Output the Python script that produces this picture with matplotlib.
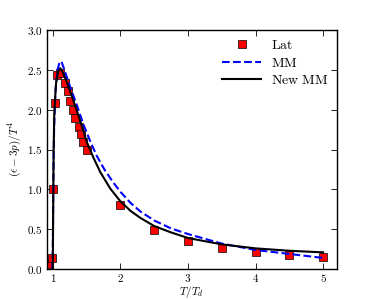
import numpy as np
import matplotlib
matplotlib.use('Agg')
import matplotlib.pyplot as plt
from matplotlib.ticker import FuncFormatter

plt.rcParams['mathtext.fontset'] = 'cm'

# lattice points
lat_t = [0.95, 0.99, 1.0, 1.03, 1.06, 1.11, 1.18, 1.23, 1.26, 1.30, 1.33, 1.38, 1.41, 1.45, 1.50,
         2.0, 2.5, 3.0, 3.5, 4.0, 4.5, 5.0]
lat_i = [0.07, 0.14, 1.0, 2.08, 2.44, 2.46, 2.34, 2.23, 2.11, 2.0, 1.89, 1.78, 1.69, 1.59, 1.50,
         0.81, 0.49, 0.35, 0.27, 0.21, 0.18, 0.15]
lat_err = [0.01, 0.02, 0.06, 0.03, 0.03, 0.03, 0.02, 0.02, 0.02, 0.02, 0.02, 0.02, 0.02, 0.02, 0.02,
           0.01, 0.01, 0.01, 0.01, 0.01, 0.01, 0.01]

# MM curve
mm_t = [0.995, 1.0, 1.005, 1.01, 1.02, 1.04, 1.07, 1.1, 1.13, 1.17, 1.25, 1.35, 1.45, 1.55, 1.65,
        1.77, 1.9, 2.0, 2.15, 2.3, 2.5, 2.75, 3.0, 3.5, 4.0, 4.5, 5.0]
mm_i = [0.0, 0.3, 0.8, 1.3, 1.8, 2.25, 2.5, 2.6, 2.6, 2.5, 2.3, 2.07, 1.82, 1.61, 1.42,
        1.24, 1.08, 0.97, 0.83, 0.72, 0.61, 0.51, 0.44, 0.32, 0.24, 0.19, 0.14]

# new MM curve
nmm_t = [1.0, 1.003, 1.007, 1.012, 1.02, 1.03, 1.05, 1.08, 1.11, 1.14, 1.2, 1.28, 1.35, 1.42, 1.5,
         1.6, 1.7, 1.85, 2.0, 2.15, 2.3, 2.5, 2.75, 3.0, 3.5, 4.0, 4.5, 5.0]
nmm_i = [0.0, 0.5, 1.0, 1.5, 1.9, 2.1, 2.35, 2.48, 2.52, 2.48, 2.36, 2.17, 2.0, 1.82, 1.6,
         1.4, 1.22, 1.01, 0.85, 0.73, 0.64, 0.54, 0.46, 0.39, 0.31, 0.26, 0.23, 0.21]

fig = plt.figure(figsize=(3.74, 2.99), dpi=100)
ax = fig.add_subplot(111)

ax.errorbar(lat_t, lat_i, yerr=lat_err, fmt='none', ecolor='r', elinewidth=0.8, capsize=0, zorder=1)
h1, = ax.plot(lat_t, lat_i, 's', mfc='r', mec='k', mew=0.5, ms=5.5, zorder=2)
h2, = ax.plot(mm_t, mm_i, 'b--', lw=1.5, zorder=3)
h3, = ax.plot(nmm_t, nmm_i, 'k-', lw=1.5, zorder=4)

ax.set_xlim(0.91, 5.2)
ax.set_ylim(0, 3.0)
ax.set_xticks([1, 2, 3, 4, 5])
ax.set_yticks(np.arange(0, 3.01, 0.5))
ax.xaxis.set_major_formatter(FuncFormatter(lambda v, p: r'$%d$' % v))
ax.yaxis.set_major_formatter(FuncFormatter(lambda v, p: r'$%.1f$' % v))
ax.tick_params(direction='in', top=True, right=True, labelsize=8, length=4, width=0.6, pad=3)
ax.tick_params(axis='x', pad=2)
for s in ax.spines.values():
    s.set_linewidth(1.0)

ax.set_xlabel(r'$T/T_d$', fontsize=8, labelpad=0)
ax.set_ylabel(r'$(\epsilon-3p)/T^4$', fontsize=8, labelpad=3)

ax.legend([h1, h2, h3], [r'$\mathrm{Lat}$', r'$\mathrm{MM}$', r'$\mathrm{New\ MM}$'],
          loc='upper right', frameon=False, numpoints=1, fontsize=10, handlelength=2.8,
          labelspacing=0.25, handletextpad=0.7, borderaxespad=0.2)

fig.subplots_adjust(left=0.125, right=0.9, bottom=0.1, top=0.9)
fig.savefig('out.png', dpi=100)
